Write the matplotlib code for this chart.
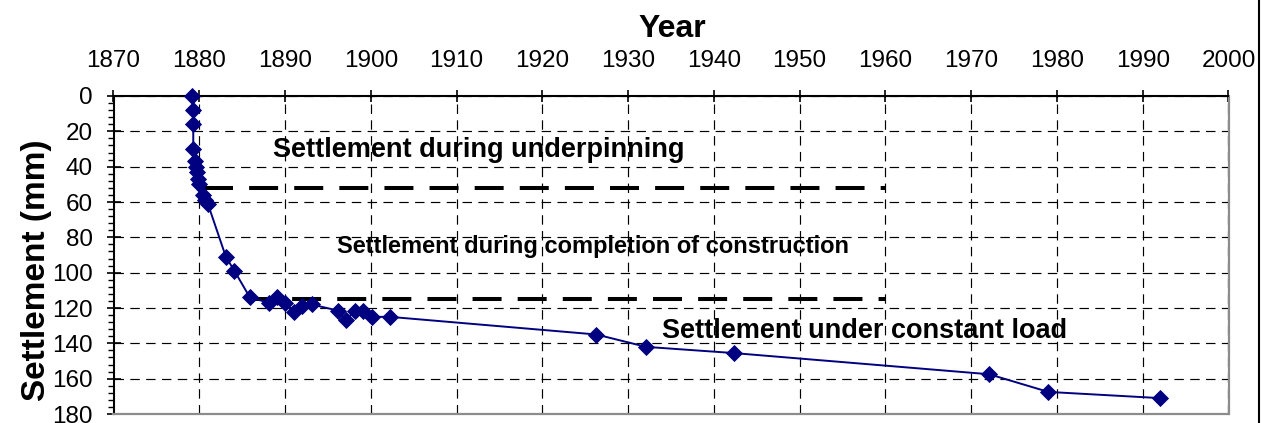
import numpy as np
import matplotlib
matplotlib.use("Agg")
import matplotlib.pyplot as plt
from matplotlib.lines import Line2D
from matplotlib.ticker import MultipleLocator

plt.rcParams['font.family'] = ['Liberation Sans', 'DejaVu Sans']

years = [1879.1, 1879.3, 1879.3, 1879.3, 1879.5, 1879.6, 1879.7, 1879.8,
         1880.0, 1880.4, 1880.7, 1881.0, 1883.1, 1884.1, 1885.9, 1888.1,
         1889.1, 1890.0, 1891.1, 1892.0, 1893.1, 1896.2, 1897.1, 1898.1,
         1899.1, 1900.1, 1902.2, 1926.3, 1932.1, 1942.3, 1972.1, 1979.0,
         1992.0]
settlement = [0, 8, 16, 30, 37, 40, 43, 47,
              50, 56, 59, 61, 91, 99, 114, 117,
              114, 117, 122, 119, 118, 121.5, 127, 121.5,
              121.5, 125, 125, 135, 142, 145.5, 157.5, 167.5,
              171]

# phase boundaries (settlement, start year, end year)
phase_levels = [52, 115]
phase_start = [1880.6, 1885.6]
phase_end = [1960, 1960]

# phase labels
phase_text = ["Settlement during underpinning",
              "Settlement during completion of construction",
              "Settlement under constant load"]
phase_text_x = [1888.6, 1896.1, 1934.0]
phase_text_y = [34.5, 89, 137]
phase_text_size = [19.5, 17, 19.5]

fig = plt.figure(figsize=(12.66, 4.23), dpi=100)
ax = fig.add_axes([113.5 / 1266, 1 - 414 / 423, 1115 / 1266, 318 / 423])

ax.set_xlim(1870, 2000)
ax.set_ylim(180, 0)

ax.xaxis.tick_top()
ax.xaxis.set_major_locator(MultipleLocator(10))
ax.yaxis.set_major_locator(MultipleLocator(20))
ax.yaxis.set_minor_locator(MultipleLocator(4))

ax.grid(True, which='major', color='black', linestyle=(0, (8, 5.4)), linewidth=0.85)
ax.set_axisbelow(True)

ax.tick_params(axis='x', which='major', direction='inout', length=9, width=1.2,
               labelsize=17.5, pad=13, top=True, bottom=False)
ax.tick_params(axis='y', which='major', direction='inout', length=10, width=1.2,
               labelsize=17.5, pad=10)
ax.tick_params(axis='y', which='minor', direction='out', length=4.5, width=1)

for side in ['top', 'left']:
    ax.spines[side].set_color('black')
    ax.spines[side].set_linewidth(1.5)
for side in ['right', 'bottom']:
    ax.spines[side].set_color('#8c8c8c')
    ax.spines[side].set_linewidth(1.6)

for lvl, x0, x1 in zip(phase_levels, phase_start, phase_end):
    ax.plot([x0, x1], [lvl, lvl], color='black', linewidth=2.9,
            linestyle=(0, (7.2, 4)), zorder=3)

ax.plot(years, settlement, color='#000080', linewidth=1.4, marker='D',
        markersize=8.5, markeredgewidth=0.6, zorder=4, clip_on=False)

for t, x, y, s in zip(phase_text, phase_text_x, phase_text_y, phase_text_size):
    ax.text(x, y, t, fontsize=s, fontweight='bold', ha='left', va='baseline', zorder=5)

fig.text(672 / 1266, 1 - 37 / 423, "Year", fontsize=23, fontweight='bold',
         ha='center', va='baseline')
fig.text(37 / 1266, 1 - 270 / 423, "Settlement (mm)", fontsize=24, fontweight='bold',
         rotation=90, ha='center', va='center')

fig.add_artist(Line2D([1259 / 1266, 1259 / 1266], [0, 1], color='black',
                      linewidth=1.5, transform=fig.transFigure))

fig.savefig("out.png", dpi=100)
